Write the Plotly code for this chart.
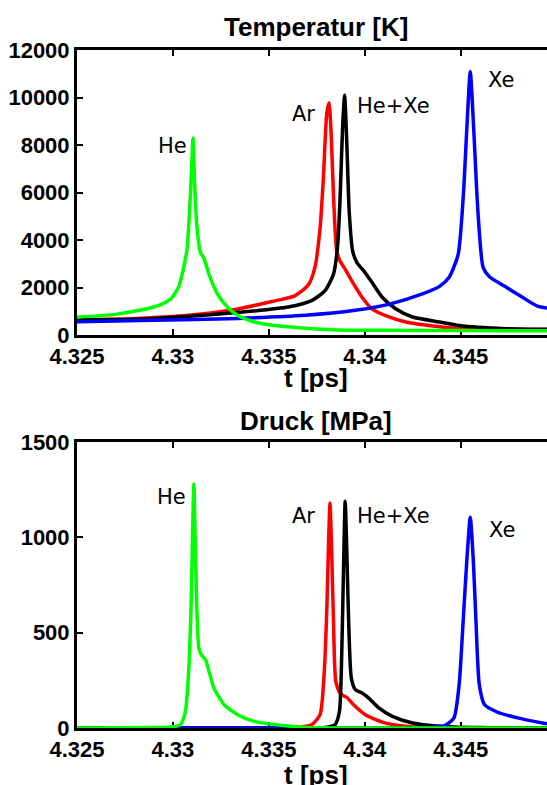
import plotly.graph_objects as go

# ---------------- data ----------------
x_tick_vals = [4.325, 4.33, 4.335, 4.34, 4.345]
x_tick_text = ["4.325", "4.33", "4.335", "4.34", "4.345"]
temp_tick_vals = [0, 2000, 4000, 6000, 8000, 10000, 12000]
temp_tick_text = ["0", "2000", "4000", "6000", "8000", "10000", "12000"]
press_tick_vals = [0, 500, 1000, 1500]
press_tick_text = ["0", "500", "1000", "1500"]

# Temperature [K]
he_T_t = [4.3250, 4.3270, 4.3281, 4.3290, 4.3294, 4.3299, 4.3303, 4.33055, 4.33074, 4.33091,
          4.3310, 4.33105, 4.33112, 4.33126, 4.33144, 4.33161, 4.33188, 4.33232, 4.33284,
          4.33337, 4.3342, 4.3351, 4.3369, 4.3386, 4.3409, 4.3446, 4.3509]
he_T = [750, 870, 1020, 1180, 1290, 1530, 2020, 2800, 3650, 5880,
        7540, 8300, 6570, 4500, 3460, 3250, 2560, 1730, 1180,
        830, 560, 420, 285, 215, 200, 190, 175]

ar_T_t = [4.3250, 4.3281, 4.3316, 4.3334, 4.3351, 4.33635, 4.33705, 4.3374, 4.33767, 4.33784,
          4.33802, 4.33814, 4.33824, 4.33837, 4.33854, 4.33872, 4.33898, 4.33933, 4.33986,
          4.34038, 4.34126, 4.34214, 4.34389, 4.3446, 4.3509]
ar_T = [650, 700, 900, 1100, 1400, 1650, 2100, 2840, 4500, 6570,
        9330, 9780, 8640, 5880, 3530, 3110, 2770, 2280, 1590,
        1100, 760, 550, 350, 300, 215]

hexe_T_t = [4.3250, 4.3281, 4.3316, 4.3342, 4.3360, 4.33723, 4.33793, 4.33837, 4.33859, 4.33872,
            4.33884, 4.33895, 4.33907, 4.33919, 4.33937, 4.3396, 4.33995, 4.34038, 4.34091,
            4.34161, 4.34249, 4.34389, 4.34493, 4.34731, 4.3509]
hexe_T = [640, 660, 830, 1010, 1180, 1450, 1870, 2560, 3800, 5880,
          8640, 10100, 7950, 5190, 3530, 3040, 2700, 2210, 1590,
          1110, 760, 550, 400, 270, 230]

xe_T_t = [4.3250, 4.3290, 4.3334, 4.3369, 4.3395, 4.3413, 4.3430, 4.3439, 4.3444, 4.34487,
          4.34514, 4.34532, 4.34550, 4.34568, 4.34590, 4.34617, 4.3465, 4.3473, 4.3482,
          4.3490, 4.3509]
xe_T = [560, 620, 700, 830, 1040, 1300, 1730, 2050, 2430, 3400,
        5900, 8670, 11100, 8670, 5200, 2850, 2450, 2050, 1600,
        1220, 1000]

# Pressure [MPa]
he_P_t = [4.3250, 4.3290, 4.3299, 4.33039, 4.33065, 4.33082, 4.33095, 4.33102, 4.33109, 4.33116,
          4.33123, 4.33135, 4.33147, 4.3317, 4.33188, 4.33214, 4.33267, 4.33337, 4.33424,
          4.3360, 4.3369, 4.3509]
he_P = [0, 2, 5, 17, 87, 297, 647, 997, 1280, 997,
        682, 420, 385, 359, 297, 210, 122, 70, 35,
        10, 3, 0]

ar_P_t = [4.3250, 4.3355, 4.33652, 4.33723, 4.33767, 4.33789, 4.33803, 4.33812, 4.33819, 4.33828,
          4.33837, 4.33849, 4.33872, 4.33907, 4.33942, 4.34003, 4.34091, 4.34214, 4.34389, 4.3509]
ar_P = [0, 0, 3, 17, 70, 297, 647, 997, 1180, 909,
        560, 245, 180, 160, 122, 70, 31, 9, 0, 0]

hexe_P_t = [4.3250, 4.3370, 4.33793, 4.33845, 4.33868, 4.3388, 4.33889, 4.33898, 4.33907, 4.33916,
            4.3393, 4.33951, 4.33986, 4.34021, 4.34073, 4.34144, 4.34249, 4.34389, 4.3460, 4.3509]
hexe_P = [0, 0, 3, 17, 87, 385, 822, 1189, 909, 560,
          262, 201, 184, 157, 105, 61, 26, 9, 2, 0]

xe_P_t = [4.3250, 4.3417, 4.3435, 4.3442, 4.34465, 4.34492, 4.34514, 4.34532, 4.34550, 4.34566,
          4.34579, 4.34597, 4.34624, 4.3469, 4.34798, 4.34962, 4.3509]
xe_P = [0, 0, 4, 14, 53, 228, 579, 877, 1105, 877,
        579, 228, 123, 84, 53, 21, 15]

labels = ["He", "Ar", "He+Xe", "Xe"]

# ---------------- figure ----------------
GREEN, RED, BLACK, BLUE = "#00ff00", "#ff0000", "#000000", "#0000ff"
LW = 3.5

fig = go.Figure()

def add(t, v, color, xa, ya):
    fig.add_trace(go.Scatter(x=t, y=v, mode="lines", xaxis=xa, yaxis=ya,
                             line=dict(color=color, width=LW, shape="spline", smoothing=0.6),
                             hoverinfo="skip"))

# top (temperature)
add(ar_T_t, ar_T, RED, "x", "y")
add(hexe_T_t, hexe_T, BLACK, "x", "y")
add(xe_T_t, xe_T, BLUE, "x", "y")
add(he_T_t, he_T, GREEN, "x", "y")
# bottom (pressure)
add(ar_P_t, ar_P, RED, "x2", "y2")
add(hexe_P_t, hexe_P, BLACK, "x2", "y2")
add(xe_P_t, xe_P, BLUE, "x2", "y2")
add(he_P_t, he_P, GREEN, "x2", "y2")

X_RANGE = [4.325, 4.3495]

tickfont = dict(family="Liberation Sans, Arial, sans-serif", size=22, color="black", weight="bold")
common_x = dict(range=X_RANGE, tickvals=x_tick_vals, ticktext=x_tick_text,
                ticks="inside", ticklen=6, tickwidth=2, tickcolor="black",
                showline=True, linewidth=3, linecolor="black", mirror="ticks",
                showgrid=False, zeroline=False, tickfont=tickfont, layer="below traces",
                domain=[0, 1], automargin=False)
common_y = dict(ticks="inside", ticklen=6, tickwidth=2, tickcolor="black",
                showline=True, linewidth=3, linecolor="black",
                showgrid=False, zeroline=False, tickfont=tickfont, layer="below traces",
                automargin=False)

fig.update_layout(
    width=547, height=785,
    margin=dict(l=77, r=0, t=0, b=0, autoexpand=False),
    plot_bgcolor="white", paper_bgcolor="white",
    showlegend=False,
    xaxis=dict(anchor="y", **common_x),
    yaxis=dict(anchor="x", domain=[0.5732, 0.9363], range=[0, 12000],
               tickvals=temp_tick_vals, ticktext=temp_tick_text, **common_y),
    xaxis2=dict(anchor="y2", **common_x),
    yaxis2=dict(anchor="x2", domain=[0.0726, 0.4369], range=[0, 1500],
                tickvals=press_tick_vals, ticktext=press_tick_text, **common_y),
)

title_font = dict(family="Liberation Sans, Arial, sans-serif", size=26, color="black", weight="bold")
label_font = dict(family="DejaVu Sans, sans-serif", size=21, color="black")

def paper_text(txt, xp, yp, font):
    fig.add_annotation(text=txt, x=xp, y=yp, xref="paper", yref="paper",
                       xanchor="center", yanchor="middle", showarrow=False, font=font)

TX = 0.5085
paper_text("Temperatur [K]", TX, 0.9656, title_font)
paper_text("t [ps]", TX, 0.5185, title_font)
paper_text("Druck [MPa]", TX, 0.4637, title_font)
paper_text("t [ps]", TX, 0.0127, title_font)

top_label_pos = [(4.33000, 7950), (4.33680, 9310), (4.34150, 9650), (4.34712, 10750)]
bot_label_pos = [(4.32990, 1212), (4.33680, 1110), (4.34152, 1110), (4.34716, 1040)]
for name, (lx, ly) in zip(labels, top_label_pos):
    fig.add_annotation(text=name, x=lx, y=ly, xref="x", yref="y", showarrow=False,
                       xanchor="center", yanchor="middle", font=label_font)
for name, (lx, ly) in zip(labels, bot_label_pos):
    fig.add_annotation(text=name, x=lx, y=ly, xref="x2", yref="y2", showarrow=False,
                       xanchor="center", yanchor="middle", font=label_font)

fig.write_html("out.html", config={"displayModeBar": False},
               post_script="document.body.style.margin='0';document.body.style.overflow='hidden';")
